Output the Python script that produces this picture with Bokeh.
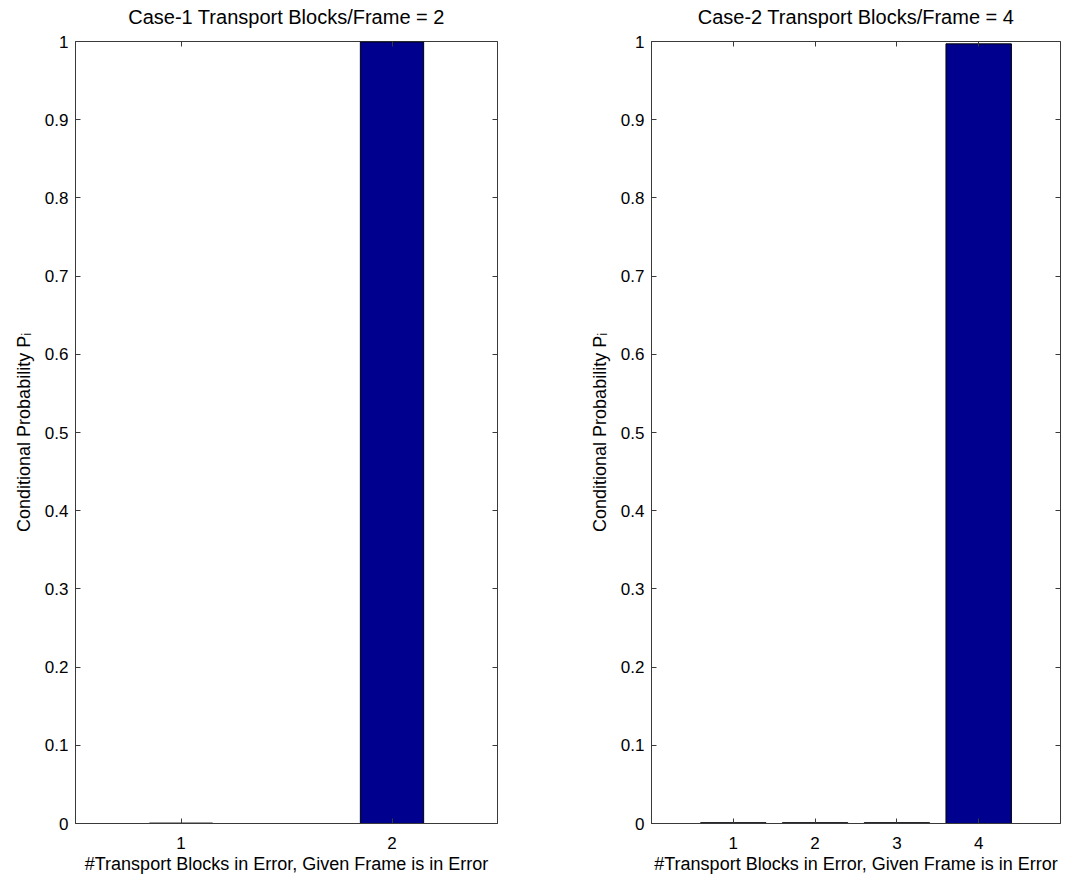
from bokeh.plotting import figure
from bokeh.layouts import row
from bokeh.models import (LinearAxis, FixedTicker, Range1d, ColumnDataSource,
                          NumeralTickFormatter, CustomLabelingPolicy)
from bokeh.embed import file_html
from bokeh.resources import INLINE

# ---- data ----
case1_title = "Case-1 Transport Blocks/Frame = 2"
case1_blocks = [1, 2]
case1_prob = [0.0005, 0.9995]

case2_title = "Case-2 Transport Blocks/Frame = 4"
case2_blocks = [1, 2, 3, 4]
case2_prob = [0.001, 0.001, 0.001, 0.997]

y_ticks = [0, 0.1, 0.2, 0.3, 0.4, 0.5, 0.6, 0.7, 0.8, 0.9, 1]
x_label = "#Transport Blocks in Error, Given Frame is in Error"
y_label = "Conditional Probability P\u1d62"

FONT = "Liberation Sans"
BAR_COLOR = "#00008F"
FRAME_COLOR = "#3a3a3a"


def no_labels():
    return CustomLabelingPolicy(code="for (const i of indices) { indices.unset(i) }")


def make_panel(title, blocks, probs, xr, bar_width, width, bl, br):
    p = figure(width=width, height=883, output_backend="svg", toolbar_location=None,
               x_range=Range1d(*xr), y_range=Range1d(0, 1),
               min_border_left=bl, min_border_right=br, min_border_top=41, min_border_bottom=60,
               title=title)
    p.title.align = "center"
    p.title.text_font = FONT
    p.title.text_font_size = "20px"
    p.title.text_font_style = "normal"
    p.title.text_color = "black"
    p.title.standoff = 5
    p.grid.visible = False
    p.outline_line_color = FRAME_COLOR
    p.outline_line_width = 1
    p.background_fill_color = "white"
    p.border_fill_color = "white"

    src = ColumnDataSource(dict(x=blocks, top=probs))
    p.vbar(x="x", top="top", bottom=0, width=bar_width, source=src,
           fill_color=BAR_COLOR, line_color="black", line_width=1)

    xa = p.xaxis[0]
    xa.ticker = FixedTicker(ticks=blocks)
    ya = p.yaxis[0]
    ya.ticker = FixedTicker(ticks=y_ticks)
    ya.formatter = NumeralTickFormatter(format="0.[0]")

    for ax in (xa, ya):
        ax.major_tick_in = 5
        ax.major_tick_out = 0
        ax.minor_tick_line_color = None
        ax.axis_line_color = FRAME_COLOR
        ax.major_tick_line_color = FRAME_COLOR
        ax.major_label_text_font = FONT
        ax.major_label_text_font_size = "17px"
        ax.major_label_text_color = "black"
        ax.axis_label_text_font = FONT
        ax.axis_label_text_font_size = "18px"
        ax.axis_label_text_font_style = "normal"
        ax.axis_label_text_color = "black"
    xa.axis_label = x_label
    xa.axis_label_standoff = 2
    xa.major_label_standoff = 13
    ya.axis_label = y_label
    ya.axis_label_standoff = 8
    ya.major_label_standoff = 7

    top_ax = LinearAxis(ticker=FixedTicker(ticks=blocks), major_label_policy=no_labels(),
                        major_tick_in=5, major_tick_out=0, minor_tick_line_color=None,
                        major_tick_line_color=FRAME_COLOR,
                        axis_line_color=None, major_label_standoff=0)
    right_ax = LinearAxis(ticker=FixedTicker(ticks=y_ticks), major_label_policy=no_labels(),
                          major_tick_in=5, major_tick_out=0, minor_tick_line_color=None,
                          major_tick_line_color=FRAME_COLOR,
                          axis_line_color=None, major_label_standoff=0)
    p.add_layout(top_ax, "above")
    p.add_layout(right_ax, "right")
    return p


p1 = make_panel(case1_title, case1_blocks, case1_prob, (0.5, 2.5), 0.3, 560, 75, 63)
p2 = make_panel(case2_title, case2_blocks, case2_prob, (0, 5), 0.8, 518, 91, 10)

layout = row(p1, p2, spacing=0)
open("out.html", "w").write(file_html(layout, INLINE))
